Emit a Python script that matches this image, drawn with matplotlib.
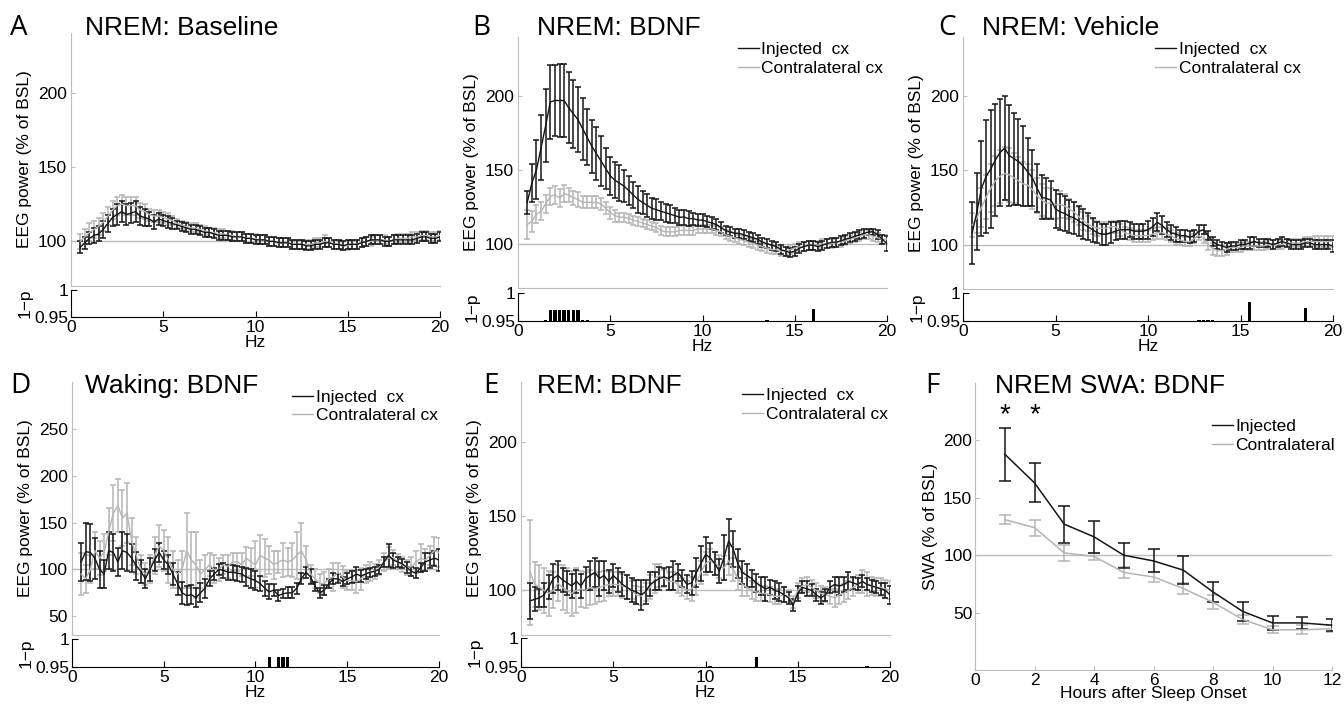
import matplotlib
matplotlib.use("Agg")
import matplotlib.pyplot as plt
from matplotlib.lines import Line2D
import numpy as np

plt.rcParams['font.family'] = ['Liberation Sans', 'DejaVu Sans']

# frequency bins, 0.25 Hz from 0.5 to 20 Hz
hz = np.arange(0.5, 20.01, 0.25)

# ---- A: NREM baseline ----
a_inj = [96, 99, 102, 104, 105, 108, 112, 116, 118, 120, 118, 119, 120, 117, 116, 115, 113, 115, 114,
         113, 112, 111, 110, 109, 108, 108, 107, 106, 106, 105, 104, 104, 104, 103, 103, 103, 102, 102, 101,
         101, 101, 100, 100, 99, 99, 99, 98, 98, 98, 97, 97, 98, 98, 99, 99, 98, 98, 97, 98,
         98, 98, 99, 100, 101, 101, 101, 100, 100, 101, 101, 101, 101, 101, 102, 103, 103, 102, 102, 103]
a_inj_err = [4, 4, 4, 5, 5, 6, 6, 6, 7, 7, 7, 7, 7, 6, 6, 5, 5, 4, 4,
             4, 4, 3, 3, 3, 3, 3, 3, 3, 3, 3, 3, 3, 3, 3, 3, 3, 3, 3, 3,
             3, 3, 3, 3, 3, 3, 3, 3, 3, 3, 3, 3, 3, 3, 3, 3, 3, 3, 3, 3,
             3, 3, 3, 3, 3, 3, 3, 3, 3, 3, 3, 3, 3, 3, 3, 3, 3, 3, 3, 3]
a_con = [100, 103, 106, 108, 110, 113, 117, 121, 124, 125, 124, 124, 124, 121, 120, 118, 117, 117, 116,
         115, 114, 112, 111, 110, 109, 109, 108, 107, 106, 106, 105, 105, 104, 104, 103, 103, 102, 102, 102,
         101, 101, 100, 100, 99, 99, 99, 98, 98, 98, 98, 98, 99, 99, 100, 99, 98, 98, 97, 97,
         98, 98, 99, 100, 100, 101, 101, 101, 100, 101, 102, 102, 102, 103, 103, 104, 104, 103, 103, 104]
a_con_err = [5, 5, 6, 6, 6, 6, 6, 6, 6, 6, 6, 6, 6, 5, 5, 4, 4, 4, 4,
             4, 3, 3, 3, 3, 3, 3, 3, 3, 3, 3, 3, 3, 3, 3, 3, 3, 3, 3, 3,
             3, 3, 3, 3, 3, 3, 3, 3, 3, 3, 3, 3, 3, 3, 4, 3, 3, 3, 3, 3,
             3, 3, 3, 3, 3, 3, 3, 3, 3, 3, 3, 3, 3, 3, 3, 3, 3, 3, 3, 3]
a_sig_hz = []
a_sig_p = []

# ---- B: NREM BDNF ----
b_inj = [128, 141, 150, 165, 180, 196, 197, 197, 197, 192, 188, 184, 178, 172, 166, 161, 156, 151, 146,
         143, 141, 139, 136, 133, 130, 128, 126, 124, 123, 122, 121, 120, 119, 118, 118, 117, 117, 116, 116,
         115, 114, 113, 111, 109, 108, 107, 107, 106, 105, 104, 103, 101, 100, 99, 98, 96, 95, 94, 95,
         97, 98, 99, 99, 98, 99, 100, 101, 101, 102, 103, 104, 105, 106, 107, 108, 108, 106, 103, 100]
b_inj_err = [8, 13, 20, 22, 25, 25, 24, 25, 25, 24, 23, 22, 21, 19, 18, 18, 17, 14, 13,
             12, 12, 11, 10, 9, 9, 8, 8, 7, 7, 6, 6, 6, 5, 5, 5, 5, 4, 4, 4,
             4, 4, 4, 4, 3, 3, 3, 3, 3, 3, 3, 3, 3, 3, 3, 3, 3, 3, 3, 3,
             3, 3, 3, 3, 3, 3, 3, 3, 3, 3, 3, 3, 3, 3, 3, 2, 2, 3, 3, 5]
b_con = [113, 115, 120, 122, 127, 132, 133, 131, 134, 133, 131, 130, 128, 128, 128, 128, 127, 124, 121,
         119, 118, 118, 117, 116, 115, 114, 113, 112, 111, 109, 108, 108, 108, 109, 109, 109, 109, 110, 110,
         110, 110, 109, 108, 106, 105, 104, 103, 102, 101, 100, 99, 98, 97, 96, 96, 95, 95, 96, 97,
         98, 98, 99, 99, 99, 100, 100, 100, 101, 101, 102, 103, 104, 105, 106, 106, 105, 104, 103, 103]
b_con_err = [10, 7, 6, 6, 6, 6, 6, 6, 6, 5, 5, 5, 4, 4, 4, 4, 4, 4, 4,
             4, 3, 3, 3, 3, 3, 3, 3, 3, 3, 3, 3, 3, 3, 3, 3, 3, 3, 3, 3,
             3, 3, 3, 3, 3, 3, 3, 3, 3, 3, 3, 3, 3, 3, 3, 3, 3, 3, 3, 3,
             3, 3, 3, 3, 3, 3, 3, 3, 3, 3, 3, 3, 3, 3, 3, 3, 3, 3, 3, 3]
b_sig_hz = [1.5, 1.75, 2.0, 2.25, 2.5, 2.75, 3.0, 3.25, 3.5, 3.75, 13.5, 16.0]
b_sig_p = [0.951, 0.97, 0.97, 0.97, 0.97, 0.97, 0.97, 0.97, 0.952, 0.951, 0.952, 0.972]

# ---- C: NREM vehicle ----
c_inj = [108, 122, 138, 146, 151, 157, 162, 165, 160, 158, 156, 153, 149, 145, 138, 132, 131, 130, 124,
         122, 121, 119, 118, 116, 114, 112, 110, 108, 107, 107, 108, 109, 110, 110, 110, 109, 109, 109, 110,
         112, 115, 113, 110, 108, 107, 106, 106, 105, 106, 109, 110, 106, 102, 100, 99, 98, 99, 99, 100,
         100, 101, 102, 101, 101, 101, 100, 101, 102, 101, 100, 100, 100, 101, 101, 100, 100, 100, 100, 99]
c_inj_err = [21, 26, 32, 38, 40, 38, 36, 35, 34, 31, 29, 27, 23, 19, 16, 15, 14, 13, 13,
             12, 12, 11, 11, 10, 10, 9, 8, 7, 7, 7, 7, 6, 6, 6, 5, 5, 5, 5, 6,
             6, 6, 6, 5, 5, 5, 4, 4, 4, 4, 4, 3, 3, 3, 3, 3, 3, 3, 3, 3,
             3, 4, 3, 3, 3, 3, 3, 3, 3, 3, 3, 3, 3, 3, 3, 3, 3, 3, 3, 4]
c_con = [113, 118, 125, 132, 138, 143, 146, 148, 147, 145, 143, 141, 140, 137, 133, 130, 128, 128, 127,
         127, 126, 124, 122, 119, 116, 114, 112, 111, 111, 111, 112, 112, 110, 108, 107, 106, 106, 106, 106,
         107, 108, 108, 107, 106, 104, 103, 102, 102, 104, 106, 104, 100, 97, 96, 96, 97, 98, 98, 98,
         99, 99, 99, 99, 99, 100, 100, 100, 100, 101, 101, 101, 101, 102, 102, 102, 102, 102, 102, 102]
c_con_err = [8, 10, 13, 15, 16, 17, 18, 18, 18, 17, 16, 15, 14, 13, 12, 11, 10, 10, 10,
             9, 8, 7, 7, 6, 6, 5, 5, 5, 4, 4, 4, 4, 4, 4, 4, 4, 4, 4, 4,
             4, 4, 4, 4, 4, 4, 3, 3, 3, 3, 3, 3, 4, 4, 4, 4, 4, 3, 3, 3,
             3, 3, 3, 3, 3, 3, 3, 3, 3, 3, 3, 3, 3, 3, 3, 4, 4, 4, 4, 4]
c_sig_hz = [12.75, 13.0, 13.25, 13.5, 15.5, 18.5]
c_sig_p = [0.951, 0.952, 0.952, 0.951, 0.984, 0.973]

# ---- D: Waking BDNF ----
d_inj = [108, 119, 118, 112, 100, 95, 120, 118, 108, 120, 118, 112, 104, 98, 90, 100, 110, 118, 110,
         105, 95, 85, 75, 72, 73, 70, 75, 80, 90, 95, 100, 99, 97, 97, 96, 95, 92, 90, 88,
         85, 80, 76, 78, 72, 74, 75, 75, 80, 90, 97, 92, 82, 75, 78, 85, 90, 90, 87, 90,
         92, 95, 93, 95, 97, 98, 100, 108, 115, 110, 108, 106, 102, 98, 96, 102, 108, 110, 112, 110]
d_inj_err = [20, 30, 30, 22, 20, 15, 20, 20, 15, 20, 20, 15, 15, 12, 10, 12, 12, 10, 10,
             10, 12, 12, 12, 10, 10, 10, 10, 10, 8, 6, 6, 8, 8, 8, 8, 8, 10, 10, 10,
             8, 8, 8, 6, 6, 5, 6, 6, 6, 6, 6, 8, 5, 5, 5, 5, 6, 5, 5, 6,
             6, 8, 6, 5, 5, 5, 5, 5, 12, 8, 5, 5, 6, 5, 5, 5, 10, 8, 8, 12]
d_con = [95, 90, 100, 120, 112, 118, 140, 160, 168, 155, 160, 130, 115, 100, 95, 100, 115, 125, 120,
         110, 100, 95, 100, 120, 110, 105, 95, 100, 105, 100, 100, 105, 103, 108, 108, 105, 112, 108, 105,
         115, 112, 110, 105, 108, 110, 108, 110, 115, 120, 110, 95, 90, 85, 85, 90, 92, 97, 92, 88,
         88, 87, 90, 95, 98, 98, 102, 108, 112, 113, 108, 105, 102, 103, 108, 112, 110, 115, 120, 118]
d_con_err = [22, 15, 15, 20, 18, 20, 25, 30, 28, 30, 32, 25, 20, 15, 12, 15, 20, 22, 22,
             25, 20, 15, 20, 40, 30, 35, 15, 15, 12, 15, 12, 10, 12, 10, 10, 12, 12, 15, 25,
             22, 20, 15, 15, 12, 18, 15, 18, 25, 30, 15, 10, 10, 10, 12, 10, 15, 10, 12, 10,
             10, 12, 12, 10, 10, 8, 8, 10, 12, 8, 8, 8, 8, 10, 12, 15, 12, 10, 15, 15]
d_sig_hz = [10.75, 11.25, 11.5, 11.75]
d_sig_p = [0.968, 0.968, 0.968, 0.968]

# ---- E: REM BDNF ----
e_inj = [93, 94, 95, 97, 102, 108, 110, 107, 105, 103, 106, 103, 108, 110, 112, 108, 110, 106, 110,
         107, 104, 102, 100, 99, 97, 99, 104, 106, 108, 109, 108, 110, 112, 108, 104, 105, 112, 118, 124,
         122, 118, 113, 122, 133, 128, 118, 112, 110, 108, 105, 103, 101, 102, 100, 99, 97, 95, 90, 98,
         102, 101, 100, 97, 95, 97, 102, 104, 103, 104, 106, 105, 104, 106, 104, 103, 102, 101, 100, 97]
e_inj_err = [12, 8, 6, 8, 8, 10, 10, 8, 8, 8, 8, 8, 8, 10, 10, 12, 10, 8, 8,
             8, 8, 8, 8, 8, 10, 8, 8, 6, 8, 6, 8, 10, 6, 6, 6, 8, 10, 12, 12,
             10, 8, 8, 15, 15, 12, 10, 8, 8, 6, 6, 6, 8, 5, 6, 6, 5, 4, 4, 5,
             4, 5, 4, 4, 4, 4, 4, 5, 6, 5, 6, 4, 4, 4, 4, 4, 4, 4, 5, 6]
e_con = [112, 104, 102, 100, 98, 100, 105, 102, 100, 98, 100, 101, 100, 102, 101, 102, 103, 104, 104,
         104, 103, 102, 100, 97, 96, 99, 102, 108, 110, 108, 106, 106, 104, 102, 100, 101, 105, 112, 118,
         120, 118, 116, 115, 120, 114, 108, 104, 102, 100, 99, 98, 98, 97, 96, 96, 97, 96, 92, 100,
         103, 104, 102, 100, 98, 97, 96, 95, 97, 98, 100, 102, 104, 106, 104, 103, 102, 102, 101, 100]
e_con_err = [35, 15, 15, 15, 15, 12, 12, 15, 15, 15, 15, 12, 12, 12, 10, 10, 10, 8, 8,
             8, 8, 8, 6, 6, 6, 6, 8, 10, 8, 6, 6, 6, 6, 6, 6, 8, 8, 8, 8,
             8, 8, 8, 8, 10, 8, 8, 8, 6, 6, 6, 5, 5, 5, 5, 5, 5, 4, 4, 5,
             5, 5, 5, 5, 5, 5, 5, 6, 6, 6, 6, 6, 6, 8, 8, 6, 6, 6, 6, 6]
e_sig_hz = [10.25, 12.75, 18.75]
e_sig_p = [0.951, 0.967, 0.951]

# ---- F: NREM SWA time course ----
hours = [1, 2, 3, 4, 5, 6, 7, 8, 9, 10, 11, 12]
f_inj = [188, 163, 127, 116, 100, 95, 87, 68, 51, 41, 41, 39]
f_inj_err = [23, 17, 16, 14, 11, 10, 12, 9, 8, 6, 5, 5]
f_con = [131, 124, 102, 99, 85, 81, 71, 59, 44, 35, 35, 36]
f_con_err = [4, 7, 7, 3, 5, 4, 5, 6, 4, 3, 4, 3]

W, H = 1344, 705
DARK = '#151515'
LIGHT = '#b4b4b4'
SPINE = '#bdbdbd'
FS = 12.5

fig = plt.figure(figsize=(W / 100, H / 100), dpi=100)


def box(x0, y0, x1, y1):
    # pixel box (top-left origin) -> figure fraction
    return [x0 / W, 1 - y1 / H, (x1 - x0) / W, (y1 - y0) / H]


def label(x, y, letter, title):
    fig.text(x[0] / W, 1 - y / H, letter, fontsize=20, family=['Open Sans', 'DejaVu Sans'], va='baseline')
    fig.text(x[1] / W, 1 - y / H, title, fontsize=19, va='baseline')


def add_legend(ax, xy, names):
    handles = [Line2D([], [], color=DARK, lw=1), Line2D([], [], color=LIGHT, lw=1)]
    ax.legend(handles, names, loc='upper left', bbox_to_anchor=xy, frameon=False, fontsize=FS,
              handlelength=1.2, handletextpad=0.15, labelspacing=0.2, borderaxespad=0, borderpad=0)


def spectrum(main_box, sub_box, inj, inj_err, con, con_err, sig_hz, sig_p, ylim, yticks, legend_xy=None):
    ax = fig.add_axes(box(*main_box))
    ax.axhline(100, color=SPINE, lw=1)
    ax.errorbar(hz, con, yerr=con_err, color=LIGHT, lw=1, elinewidth=1.1, capsize=2.5, capthick=1.1)
    ax.errorbar(hz, inj, yerr=inj_err, color=DARK, lw=1, elinewidth=1.1, capsize=2.5, capthick=1.1)
    ax.set_xlim(0, 20)
    ax.set_ylim(*ylim)
    ax.set_xticks([])
    ax.set_yticks(yticks)
    ax.tick_params(axis='y', direction='in', length=3, color=SPINE, labelsize=FS, pad=3)
    for s in ['top', 'right']:
        ax.spines[s].set_visible(False)
    for s in ['left', 'bottom']:
        ax.spines[s].set_color(SPINE)
    ax.set_ylabel('EEG power (% of BSL)', fontsize=FS, labelpad=4)
    if legend_xy is not None:
        add_legend(ax, legend_xy, ['Injected  cx', 'Contralateral cx'])

    sp = fig.add_axes(box(*sub_box))
    sp.bar(sig_hz, np.array(sig_p) - 0.95, bottom=0.95, width=0.18, color='black')
    sp.set_xlim(0, 20)
    sp.set_ylim(0.95, 1)
    sp.set_yticks([0.95, 1])
    sp.set_yticklabels(['0.95', '1'])
    sp.set_xticks([0, 5, 10, 15, 20])
    sp.tick_params(direction='in', length=4, labelsize=FS, pad=2)
    for s in ['top', 'right']:
        sp.spines[s].set_visible(False)
    sp.set_xlabel('Hz', fontsize=FS, labelpad=0)
    sp.set_ylabel('1\u2212p', fontsize=FS, labelpad=1)
    return ax, sp


spectrum((71, 33, 440, 286), (71, 290, 440, 317), a_inj, a_inj_err, a_con, a_con_err,
         a_sig_hz, a_sig_p, (70, 240), [100, 150, 200])
spectrum((518, 37, 887, 288), (518, 293, 887, 321), b_inj, b_inj_err, b_con, b_con_err,
         b_sig_hz, b_sig_p, (70, 240), [100, 150, 200], legend_xy=(0.596, 0.98))
spectrum((963, 37, 1333, 289), (963, 293, 1333, 321), c_inj, c_inj_err, c_con, c_con_err,
         c_sig_hz, c_sig_p, (70, 240), [100, 150, 200], legend_xy=(0.52, 0.98))
spectrum((72, 382, 439, 635), (72, 639, 439, 667), d_inj, d_inj_err, d_con, d_con_err,
         d_sig_hz, d_sig_p, (30, 300), [50, 100, 150, 200, 250], legend_xy=(0.6, 0.97))
spectrum((521, 382, 890, 635), (521, 638, 890, 667), e_inj, e_inj_err, e_con, e_con_err,
         e_sig_hz, e_sig_p, (70, 240), [100, 150, 200], legend_xy=(0.6, 0.975))

# panel F
ax = fig.add_axes(box(975, 383, 1332, 670))
ax.axhline(100, color=SPINE, lw=1)
ax.errorbar(hours, f_con, yerr=f_con_err, color=LIGHT, lw=1.1, elinewidth=1.1, capsize=4.5, capthick=1.1)
ax.errorbar(hours, f_inj, yerr=f_inj_err, color=DARK, lw=1.1, elinewidth=1.1, capsize=4.5, capthick=1.1)
for h in hours[:2]:
    ax.text(h, 222, '*', ha='center', va='center', fontsize=20)
ax.set_xlim(0, 12)
ax.set_ylim(0, 250)
ax.set_xticks([0, 2, 4, 6, 8, 10, 12])
ax.set_yticks([50, 100, 150, 200])
ax.tick_params(direction='in', length=3, color=SPINE, labelsize=FS, pad=2)
for s in ['top', 'right']:
    ax.spines[s].set_visible(False)
for s in ['left', 'bottom']:
    ax.spines[s].set_color(SPINE)
ax.set_ylabel('SWA (% of BSL)', fontsize=FS, labelpad=4)
ax.set_xlabel('Hours after Sleep Onset', fontsize=FS, labelpad=-1)
add_legend(ax, (0.664, 0.875), ['Injected', 'Contralateral'])

label((10, 85), 35, 'A', 'NREM: Baseline')
label((472, 537), 35, 'B', 'NREM: BDNF')
label((938, 982), 35, 'C', 'NREM: Vehicle')
label((10, 85), 393, 'D', 'Waking: BDNF')
label((483, 537), 393, 'E', 'REM: BDNF')
label((925, 995), 393, 'F', 'NREM SWA: BDNF')

fig.savefig('out.png', dpi=100)
